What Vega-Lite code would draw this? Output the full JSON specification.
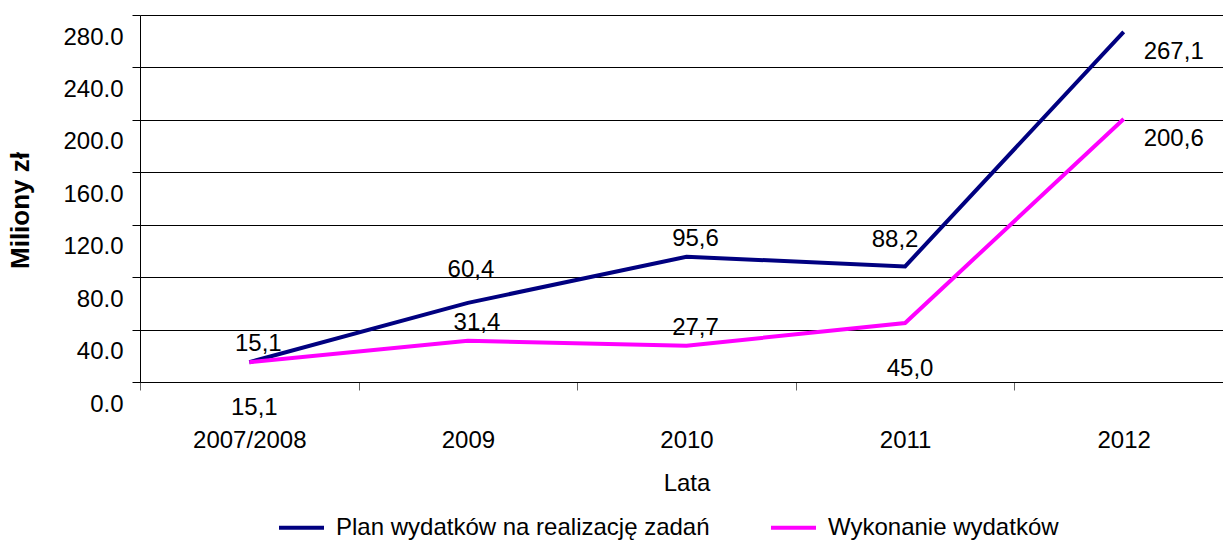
{
  "$schema": "https://vega.github.io/schema/vega-lite/v6.json",
  "autosize": {"type": "none"},
  "padding": {"left": 140, "top": 15, "right": 0, "bottom": 159},
  "width": 1093,
  "height": 367,
  "background": "white",
  "config": {
    "view": {"stroke": null},
    "font": "Liberation Sans",
    "axis": {"labelFont": "Liberation Sans", "titleFont": "Liberation Sans", "labelColor": "#000", "titleColor": "#000"},
    "text": {"font": "Liberation Sans"}
  },
  "data": {
    "values": [
      {"rok": "2007/2008", "seria": "Plan wydatków na realizację zadań", "wartosc": 15.1, "pos": "nad"},
      {"rok": "2009", "seria": "Plan wydatków na realizację zadań", "wartosc": 60.4, "pos": "nad2"},
      {"rok": "2010", "seria": "Plan wydatków na realizację zadań", "wartosc": 95.6, "pos": "nad"},
      {"rok": "2011", "seria": "Plan wydatków na realizację zadań", "wartosc": 88.2, "pos": "nad3"},
      {"rok": "2012", "seria": "Plan wydatków na realizację zadań", "wartosc": 267.1, "pos": "prawo"},
      {"rok": "2007/2008", "seria": "Wykonanie wydatków", "wartosc": 15.1, "pos": "pod"},
      {"rok": "2009", "seria": "Wykonanie wydatków", "wartosc": 31.4, "pos": "nad"},
      {"rok": "2010", "seria": "Wykonanie wydatków", "wartosc": 27.7, "pos": "nad"},
      {"rok": "2011", "seria": "Wykonanie wydatków", "wartosc": 45.0, "pos": "pod"},
      {"rok": "2012", "seria": "Wykonanie wydatków", "wartosc": 200.6, "pos": "prawo"}
    ]
  },
  "encoding": {
    "x": {
      "field": "rok", "type": "ordinal", "sort": null,
      "scale": {"type": "band", "paddingInner": 0, "paddingOuter": 0},
      "bandPosition": 0.5,
      "axis": {
        "title": "Lata", "titleFontSize": 24, "titleFontWeight": "normal",
        "titleBaseline": "alphabetic", "titleY": 108.5,
        "labelFontSize": 24, "labelAngle": 0, "labelPadding": 38,
        "tickBand": "extent", "tickSize": 8, "tickColor": "#666", "tickWidth": 1,
        "domainColor": "#000", "domainWidth": 1, "grid": false
      }
    },
    "y": {
      "field": "wartosc", "type": "quantitative",
      "scale": {"domain": [0, 280], "nice": false, "zero": true},
      "axis": {
        "title": "Miliony zł", "titleFontSize": 26, "titleFontWeight": "bold",
        "titleAngle": -90, "titleX": -120, "titleY": 195, "titleAlign": "center", "titleBaseline": "middle",
        "values": [0, 40, 80, 120, 160, 200, 240, 280], "format": ".1f",
        "labelFontSize": 24, "labelOffset": 22, "labelPadding": 9, "labelBaseline": "middle",
        "tickSize": 8, "tickColor": "#000", "domainColor": "#000",
        "grid": true, "gridColor": "#000", "gridWidth": 1, "gridOpacity": 1
      }
    }
  },
  "layer": [
    {
      "mark": {"type": "line", "strokeWidth": 4, "strokeJoin": "miter"},
      "encoding": {
        "color": {
          "field": "seria", "type": "nominal",
          "scale": {"domain": ["Plan wydatków na realizację zadań", "Wykonanie wydatków"], "range": ["#000080", "#FF00FF"]},
          "legend": {
            "title": null, "orient": "none", "direction": "horizontal",
            "legendX": 137, "legendY": 488, "padding": 0,
            "symbolType": "stroke", "symbolSize": 2025, "symbolStrokeWidth": 4,
            "labelFontSize": 24, "labelFont": "Liberation Sans", "labelColor": "#000",
            "labelOffset": 10, "columnPadding": 53, "labelLimit": 600
          }
        }
      }
    },
    {
      "transform": [{"filter": "datum.pos === 'nad'"}, {"calculate": "replace(format(datum.wartosc, '.1f'), '.', ',')", "as": "etykieta"}],
      "mark": {"type": "text", "fontSize": 24, "color": "#000", "dx": 9, "dy": -18, "baseline": "middle"},
      "encoding": {"text": {"field": "etykieta"}}
    },
    {
      "transform": [{"filter": "datum.pos === 'nad2'"}, {"calculate": "replace(format(datum.wartosc, '.1f'), '.', ',')", "as": "etykieta"}],
      "mark": {"type": "text", "fontSize": 24, "color": "#000", "dx": 3, "dy": -33, "baseline": "middle"},
      "encoding": {"text": {"field": "etykieta"}}
    },
    {
      "transform": [{"filter": "datum.pos === 'nad3'"}, {"calculate": "replace(format(datum.wartosc, '.1f'), '.', ',')", "as": "etykieta"}],
      "mark": {"type": "text", "fontSize": 24, "color": "#000", "dx": -10, "dy": -26, "baseline": "middle"},
      "encoding": {"text": {"field": "etykieta"}}
    },
    {
      "transform": [{"filter": "datum.pos === 'pod'"}, {"calculate": "replace(format(datum.wartosc, '.1f'), '.', ',')", "as": "etykieta"}],
      "mark": {"type": "text", "fontSize": 24, "color": "#000", "dx": 5, "dy": 46, "baseline": "middle"},
      "encoding": {"text": {"field": "etykieta"}}
    },
    {
      "transform": [{"filter": "datum.pos === 'prawo'"}, {"calculate": "replace(format(datum.wartosc, '.1f'), '.', ',')", "as": "etykieta"}],
      "mark": {"type": "text", "fontSize": 24, "color": "#000", "dx": 50, "dy": 20, "baseline": "middle"},
      "encoding": {"text": {"field": "etykieta"}}
    }
  ]
}
